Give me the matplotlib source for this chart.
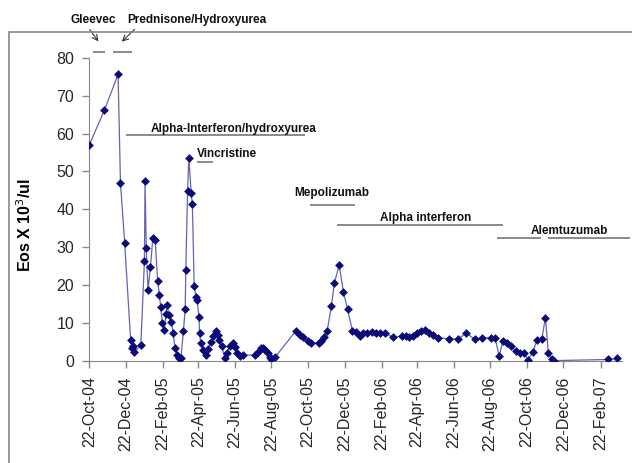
import numpy as np
import pandas as pd
import matplotlib
matplotlib.use("Agg")
import matplotlib.pyplot as plt
import matplotlib.dates as mdates
import matplotlib.patches as mpatches

plt.rcParams['font.family'] = ['Liberation Sans', 'DejaVu Sans']

# eosinophil counts
dates = ['2004-10-22', '2004-11-16', '2004-12-09', '2004-12-13', '2004-12-20',
         '2004-12-30', '2005-01-01', '2005-01-03', '2005-01-05', '2005-01-16',
         '2005-01-22', '2005-01-23', '2005-01-25', '2005-01-28', '2005-02-01',
         '2005-02-05', '2005-02-09', '2005-02-13', '2005-02-16', '2005-02-18',
         '2005-02-21', '2005-02-24', '2005-02-27', '2005-03-01', '2005-03-04',
         '2005-03-08', '2005-03-11', '2005-03-14', '2005-03-18', '2005-03-21',
         '2005-03-24', '2005-03-28', '2005-03-31', '2005-04-01', '2005-04-04',
         '2005-04-06', '2005-04-10', '2005-04-12', '2005-04-15', '2005-04-18',
         '2005-04-20', '2005-04-23', '2005-04-24', '2005-04-26', '2005-04-30',
         '2005-05-04', '2005-05-08', '2005-05-13', '2005-05-17', '2005-05-21',
         '2005-05-24', '2005-05-26', '2005-05-31', '2005-06-05', '2005-06-08',
         '2005-06-14', '2005-06-18', '2005-06-22', '2005-06-25', '2005-06-30',
         '2005-07-06', '2005-07-25', '2005-07-30', '2005-08-04', '2005-08-08',
         '2005-08-12', '2005-08-16', '2005-08-20', '2005-08-22', '2005-08-28',
         '2005-10-02', '2005-10-09', '2005-10-14', '2005-10-22', '2005-10-27',
         '2005-11-09', '2005-11-13', '2005-11-17', '2005-11-23', '2005-11-30',
         '2005-12-05', '2005-12-13', '2005-12-20', '2005-12-27', '2006-01-04',
         '2006-01-10', '2006-01-17', '2006-01-22', '2006-01-29', '2006-02-05',
         '2006-02-12', '2006-02-19', '2006-02-27', '2006-03-13', '2006-03-28',
         '2006-04-03', '2006-04-09', '2006-04-15', '2006-04-22', '2006-04-29',
         '2006-05-05', '2006-05-12', '2006-05-19', '2006-05-27', '2006-06-15',
         '2006-06-29', '2006-07-13', '2006-07-27', '2006-08-09', '2006-08-24',
         '2006-08-30', '2006-09-06', '2006-09-12', '2006-09-19', '2006-09-26',
         '2006-10-04', '2006-10-11', '2006-10-18', '2006-10-24', '2006-11-01',
         '2006-11-08', '2006-11-16', '2006-11-22', '2006-11-27', '2006-12-03',
         '2006-12-06', '2007-03-07', '2007-03-22']
eos = [57.0, 66.1, 75.6, 47.0, 31.2,
       5.5, 3.5, 4.0, 2.3, 4.2,
       26.5, 47.6, 29.8, 18.7, 24.7,
       32.5, 31.8, 21.0, 17.5, 14.3,
       9.9, 8.2, 12.5, 14.9, 12.1,
       10.3, 7.3, 3.3, 1.6, 0.8,
       0.8, 7.9, 13.6, 24.1, 44.8,
       53.6, 44.3, 41.3, 19.7, 16.9,
       16.1, 11.5, 7.3, 4.7, 2.9,
       1.6, 3.1, 5.1, 6.6, 8.0,
       6.8, 5.5, 3.9, 0.7, 2.0,
       3.9, 4.7, 3.8, 2.0, 1.3,
       1.6, 1.5, 2.5, 3.3, 3.3,
       3.0, 2.2, 1.1, 0.4, 1.0,
       8.0, 6.8, 6.2, 5.2, 4.8,
       4.8, 5.3, 6.2, 8.0, 14.5,
       20.7, 25.3, 18.2, 13.6, 8.0,
       7.7, 6.6, 7.3, 7.3, 7.7,
       7.3, 7.3, 7.4, 6.2, 6.6,
       6.6, 6.2, 6.6, 7.4, 8.0,
       8.3, 7.4, 6.8, 6.1, 5.9,
       5.7, 7.4, 5.7, 6.1, 6.1,
       6.1, 1.3, 5.3, 4.7, 3.9,
       2.6, 2.2, 2.0, 0.3, 2.4,
       5.5, 5.7, 11.4, 2.2, 0.4,
       0.1, 0.4, 0.7]

# treatment periods: label, start, end, bar level
drugs = ['Gleevec', 'Prednisone/Hydroxyurea', 'Alpha-Interferon/hydroxyurea',
         'Vincristine', 'Mepolizumab', 'Alpha interferon', 'Alemtuzumab', 'Alemtuzumab']
drug_start = ['2004-10-28', '2004-11-30', '2004-12-22', '2005-04-20',
              '2005-10-26', '2005-12-09', '2006-09-02', '2006-11-26']
drug_end = ['2004-11-17', '2005-01-01', '2005-10-17', '2005-05-17',
            '2006-01-08', '2006-09-12', '2006-11-14', '2007-04-12']
drug_level = [81.4, 81.4, 59.5, 52.6, 41.2, 36.0, 32.4, 32.4]

x = pd.to_datetime(dates)

fig = plt.figure(figsize=(6.32, 4.63), dpi=100)
ax = fig.add_axes([0.1413, 0.2203, 0.843, 0.6551])

ax.plot(x, eos, color='#6464b0', lw=0.9, zorder=3)
ax.scatter(x, eos, marker='D', s=20, color='#0a0a78', zorder=4, linewidths=0)

ax.set_ylim(0, 80)
ax.set_xlim(pd.Timestamp('2004-10-22'), pd.Timestamp('2007-03-30'))
ax.set_yticks(np.arange(0, 81, 10))
ax.xaxis.set_major_locator(mdates.MonthLocator(bymonth=[2, 4, 6, 8, 10, 12], bymonthday=22))
ax.xaxis.set_major_formatter(mdates.DateFormatter('%d-%b-%y'))
plt.setp(ax.get_xticklabels(), rotation=90)
ax.tick_params(axis='both', labelsize=11.5, colors='#888888', labelcolor='#262626',
               length=5, width=1, direction='out')
ax.tick_params(axis='x', pad=6)
ax.tick_params(axis='y', pad=6)

for side in ['top', 'right']:
    ax.spines[side].set_visible(False)
for side in ['left', 'bottom']:
    ax.spines[side].set_color('#888888')
ax.set_ylabel('Eos X 10$^3$/ul', fontsize=11.5, fontweight='bold')
ax.yaxis.set_label_coords(-0.103, 0.45)

# treatment bars
for s, e, lvl in zip(drug_start, drug_end, drug_level):
    ax.hlines(lvl, pd.Timestamp(s), pd.Timestamp(e), color='#777777', lw=1.2, clip_on=False)

lab = dict(fontsize=8.5, fontweight='bold', clip_on=False, color='#111111')
ax.text(pd.Timestamp('2004-10-28'), 90, drugs[0], ha='center', va='center', **lab)
ax.text(pd.Timestamp('2005-04-20'), 90, drugs[1], ha='center', va='center', **lab)
ax.annotate('', xy=(pd.Timestamp('2004-11-09'), 83.7), xytext=(pd.Timestamp('2004-10-20'), 88),
            arrowprops=dict(arrowstyle='->', color='#333333', lw=0.8), annotation_clip=False)
ax.annotate('', xy=(pd.Timestamp('2004-12-12'), 83.7), xytext=(pd.Timestamp('2005-01-09'), 88),
            arrowprops=dict(arrowstyle='->', color='#333333', lw=0.8), annotation_clip=False)
ax.text(pd.Timestamp('2005-06-20'), 61.3, drugs[2], ha='center', va='center', **lab)
ax.text(pd.Timestamp('2005-04-20'), 54.5, drugs[3], ha='left', va='center', **lab)
ax.text(pd.Timestamp('2005-12-01'), 44.3, drugs[4], ha='center', va='center', **lab)
ax.text(pd.Timestamp('2006-05-07'), 37.6, drugs[5], ha='center', va='center', **lab)
ax.text(pd.Timestamp('2007-01-01'), 34.3, drugs[6], ha='center', va='center', **lab)

# outer chart frame
fig.patches.append(mpatches.Rectangle((9 / 632, -0.2), 1.2, 1.2 - 32 / 463,
                                      transform=fig.transFigure, fill=False,
                                      edgecolor='#888888', lw=1.2))

fig.savefig('out.png', dpi=100)
